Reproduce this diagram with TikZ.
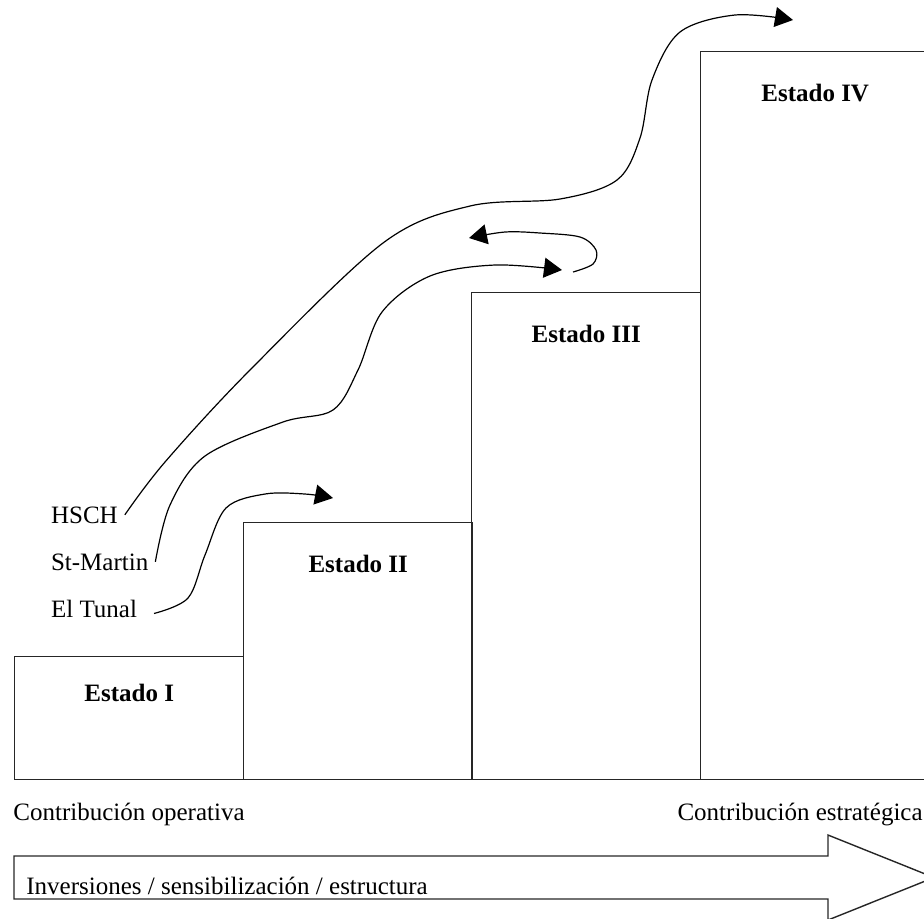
\documentclass[tikz,border=0pt]{standalone}
\usepackage{fontspec}
\setmainfont{Liberation Serif}
\usepackage{tikz}
\usetikzlibrary{arrows.meta,positioning}

\begin{document}
\begin{tikzpicture}[x=0.5pt,y=-0.5pt,>={Triangle[length=9pt,width=10pt]},
		font=\fontsize{12.5}{15}\selectfont,
		estado node/.style={rectangle,draw=black!85,line width=0.7pt,anchor=south west,inner sep=0pt,minimum width=114.5pt},
		titulo node/.style={font=\fontsize{12.5}{15}\selectfont\bfseries,inner sep=0pt},
		texto node/.style={inner sep=0pt,anchor=base west},
		caso node/.style={anchor=base west},
		camino/.style={->,line width=0.6pt}]
		
		\path[use as bounding box,clip] (0,0) rectangle (924,918);
		
		% estados
		\node[estado node,minimum height=61.5pt] (e1) at (14,780) {};
		\node[estado node,minimum height=128.5pt] (e2) at (243,780) {};
		\node[estado node,minimum height=243.5pt] (e3) at (471,780) {};
		\node[estado node,minimum height=364pt] (e4) at (700,780) {};
		\node[titulo node,below=14pt of e1.north] (t1) {Estado I};
		\node[titulo node,below=16.5pt of e2.north] (t2) {Estado II};
		\node[titulo node,below=16.5pt of e3.north] (t3) {Estado III};
		\node[titulo node,below=16.5pt of e4.north] (t4) {Estado IV};
		
		\node[texto node] (op) at (13,820) {Contribución operativa};
		\node[texto node,anchor=base east] (es) at (923,820) {Contribución estratégica};
		
		% flecha grande
		\draw[line width=0.7pt,draw=black!85] (14,856) -- (828,856) -- (828,835) -- (934,877.5)
			-- (828,920) -- (828,899) -- (14,899) -- cycle;
		\node[texto node] (inv) at (26,894) {Inversiones / sensibilización / estructura};
		
		% hospitales
		\node[caso node] (hsch) at (44,523) {HSCH};
		\node[caso node] (stm) at (44,570) {St-Martin};
		\node[caso node] (tunal) at (44,617) {El Tunal};
		
		\coordinate (f1) at (793,20);
		\coordinate (f2) at (562,270);
		\coordinate (f3) at (333,498);
		\coordinate (lazo) at (573,272);
		\coordinate (f4) at (469,238);
		
		\draw[camino] plot[smooth,tension=0.55] coordinates {(hsch.east) (165,462) (250,370)
			(383,243) (470,206) (560,199) (617,180) (640,138) (652,80) (680,32) (735,15) (f1)};
		\draw[camino] plot[smooth,tension=0.55] coordinates {(stm.east) (170,505) (205,456)
			(283,422) (333,410) (358,370) (382,312) (430,276) (495,265) (f2)};
		\draw[camino] plot[smooth,tension=0.55] coordinates {([shift={(10,5)}]tunal.east) (188,598)
			(205,555) (226,508) (265,494) (305,494) (f3)};
		\draw[camino] plot[smooth,tension=0.55] coordinates {(lazo) (593,264) (596,250)
			(580,237) (540,233) (505,232) (f4)};
		
\end{tikzpicture}
\end{document}
